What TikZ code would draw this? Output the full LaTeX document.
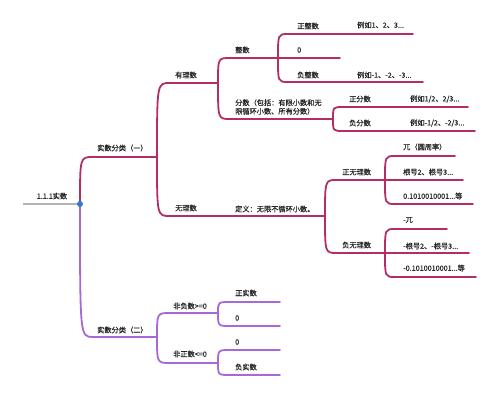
\documentclass[tikz,border=0pt]{standalone}
\usepackage{fontspec}
\newfontfamily\cjk[FakeBold=0.6]{Noto Sans CJK SC}
\definecolor{rc}{HTML}{B52D65}
\definecolor{pc}{HTML}{A868D6}
\definecolor{gc}{HTML}{B4B4B4}
\definecolor{bc}{HTML}{2E7BD0}
\tikzset{
  lbl/.style={font=\cjk\fontsize{7.2}{8.6}\selectfont, inner sep=0pt, anchor=west, text=black!85},
  redln/.style={draw=rc, line width=1.8pt, line cap=round},
  purln/.style={draw=pc, line width=1.8pt, line cap=round},
}
\begin{document}
\begin{tikzpicture}[x=1pt,y=-1pt]
\useasboundingbox (0,0) rectangle (500,409);
% coordinates
\coordinate (r0) at (23,204);
\coordinate (J0) at (80,204);
\coordinate (c1) at (93,157);  \coordinate (J1) at (157,157);
\coordinate (c2) at (170,83);  \coordinate (J2) at (218,83);
\coordinate (c3) at (170,216); \coordinate (J3) at (325,216);
\coordinate (c4) at (230,58);  \coordinate (J4) at (278,58);
\coordinate (c5) at (230,119); \coordinate (J5) at (333,119);
\coordinate (c6) at (288,34);  \coordinate (e6) at (413,34);
\coordinate (e7) at (340,58);
\coordinate (c8) at (288,82);  \coordinate (e8) at (423,82);
\coordinate (c9) at (343,107); \coordinate (e9) at (468,107);
\coordinate (c10) at (343,131); \coordinate (e10) at (475,131);
\coordinate (c11) at (337,180); \coordinate (J6) at (385,180);
\coordinate (c12) at (337,253); \coordinate (J7) at (385,253);
\coordinate (c13) at (395,156); \coordinate (e13) at (455,156);
\coordinate (e14) at (463,180);
\coordinate (c15) at (395,204); \coordinate (e15) at (473,204);
\coordinate (c16) at (395,229); \coordinate (e16) at (447,229);
\coordinate (e17) at (469,253);
\coordinate (c18) at (395,277); \coordinate (e18) at (476,277);
\coordinate (c20) at (93,337);  \coordinate (J8) at (157,337);
\coordinate (c21) at (170,313); \coordinate (J9) at (218,313);
\coordinate (c22) at (170,363); \coordinate (J10) at (218,363);
\coordinate (c23) at (230,302); \coordinate (e23) at (280,302);
\coordinate (c24) at (230,326); \coordinate (e24) at (280,326);
\coordinate (c25) at (230,350); \coordinate (e25) at (280,350);
\coordinate (c26) at (230,375); \coordinate (e26) at (280,375);

% root
\draw[draw=gc, line width=1.5pt] (r0) -- (J0);
\node[lbl, anchor=center] (root) at (52,196) {1.1.1实数};

% red branches
\draw[redln] (J0) .. controls (J0 |- c1) .. (c1) -- (J1);
\draw[redln] (J1) .. controls (J1 |- c2) .. (c2) -- (J2);
\draw[redln] (J1) .. controls (J1 |- c3) .. (c3) -- (J3);
\draw[redln] (J2) .. controls (J2 |- c4) .. (c4) -- (J4);
\draw[redln] (J2) .. controls (J2 |- c5) .. (c5) -- (J5);
\draw[redln] (J4) .. controls (J4 |- c6) .. (c6) -- (e6);
\draw[redln] (J4) -- (e7);
\draw[redln] (J4) .. controls (J4 |- c8) .. (c8) -- (e8);
\draw[redln] (J5) .. controls (J5 |- c9) .. (c9) -- (e9);
\draw[redln] (J5) .. controls (J5 |- c10) .. (c10) -- (e10);
\draw[redln] (J3) .. controls (J3 |- c11) .. (c11) -- (J6);
\draw[redln] (J3) .. controls (J3 |- c12) .. (c12) -- (J7);
\draw[redln] (J6) .. controls (J6 |- c13) .. (c13) -- (e13);
\draw[redln] (J6) -- (e14);
\draw[redln] (J6) .. controls (J6 |- c15) .. (c15) -- (e15);
\draw[redln] (J7) .. controls (J7 |- c16) .. (c16) -- (e16);
\draw[redln] (J7) -- (e17);
\draw[redln] (J7) .. controls (J7 |- c18) .. (c18) -- (e18);

% purple branches
\draw[purln] (J0) .. controls (J0 |- c20) .. (c20) -- (J8);
\draw[purln] (J8) .. controls (J8 |- c21) .. (c21) -- (J9);
\draw[purln] (J8) .. controls (J8 |- c22) .. (c22) -- (J10);
\draw[purln] (J9) .. controls (J9 |- c23) .. (c23) -- (e23);
\draw[purln] (J9) .. controls (J9 |- c24) .. (c24) -- (e24);
\draw[purln] (J10) .. controls (J10 |- c25) .. (c25) -- (e25);
\draw[purln] (J10) .. controls (J10 |- c26) .. (c26) -- (e26);

\fill[bc] (J0) circle (3pt);

% labels
\node[lbl] (t1) at (97,148) {实数分类（一）};
\node[lbl] (t2) at (175,75) {有理数};
\node[lbl] (t3) at (175,208) {无理数};
\node[lbl] (t3d) at (235,209) {定义：无限不循环小数。};
\node[lbl] (t4) at (235,50) {整数};
\node[lbl, align=left] (t5) at (235,107) {分数（包括：有限小数和无\\限循环小数、所有分数）};
\node[lbl] (t6) at (297,26) {正整数};
\node[lbl] (t6e) at (357,25) {例如1、2、3...};
\node[lbl] (t7) at (297,50) {0};
\node[lbl] (t8) at (297,75) {负整数};
\node[lbl] (t8e) at (357,75) {例如-1、-2、-3...};
\node[lbl] (t9) at (349,99) {正分数};
\node[lbl] (t9e) at (410,99) {例如1/2、2/3...};
\node[lbl] (t10) at (349,123) {负分数};
\node[lbl] (t10e) at (410,123) {例如-1/2、-2/3...};
\node[lbl] (t11) at (342,172) {正无理数};
\node[lbl] (t12) at (342,245) {负无理数};
\node[lbl] (t13) at (403,147) {兀（圆周率）};
\node[lbl] (t14) at (403,172) {根号2、根号3...};
\node[lbl] (t15) at (403,196) {0.1010010001...等};
\node[lbl] (t16) at (403,220) {-兀};
\node[lbl] (t17) at (403,246) {-根号2、-根号3...};
\node[lbl] (t18) at (403,268) {-0.1010010001...等};
\node[lbl] (t20) at (97,330) {实数分类（二）};
\node[lbl] (t21) at (173,306) {非负数>=0};
\node[lbl] (t22) at (173,354) {非正数<=0};
\node[lbl] (t23) at (235,293) {正实数};
\node[lbl] (t24) at (235,318) {0};
\node[lbl] (t25) at (235,342) {0};
\node[lbl] (t26) at (235,367) {负实数};
\end{tikzpicture}
\end{document}
